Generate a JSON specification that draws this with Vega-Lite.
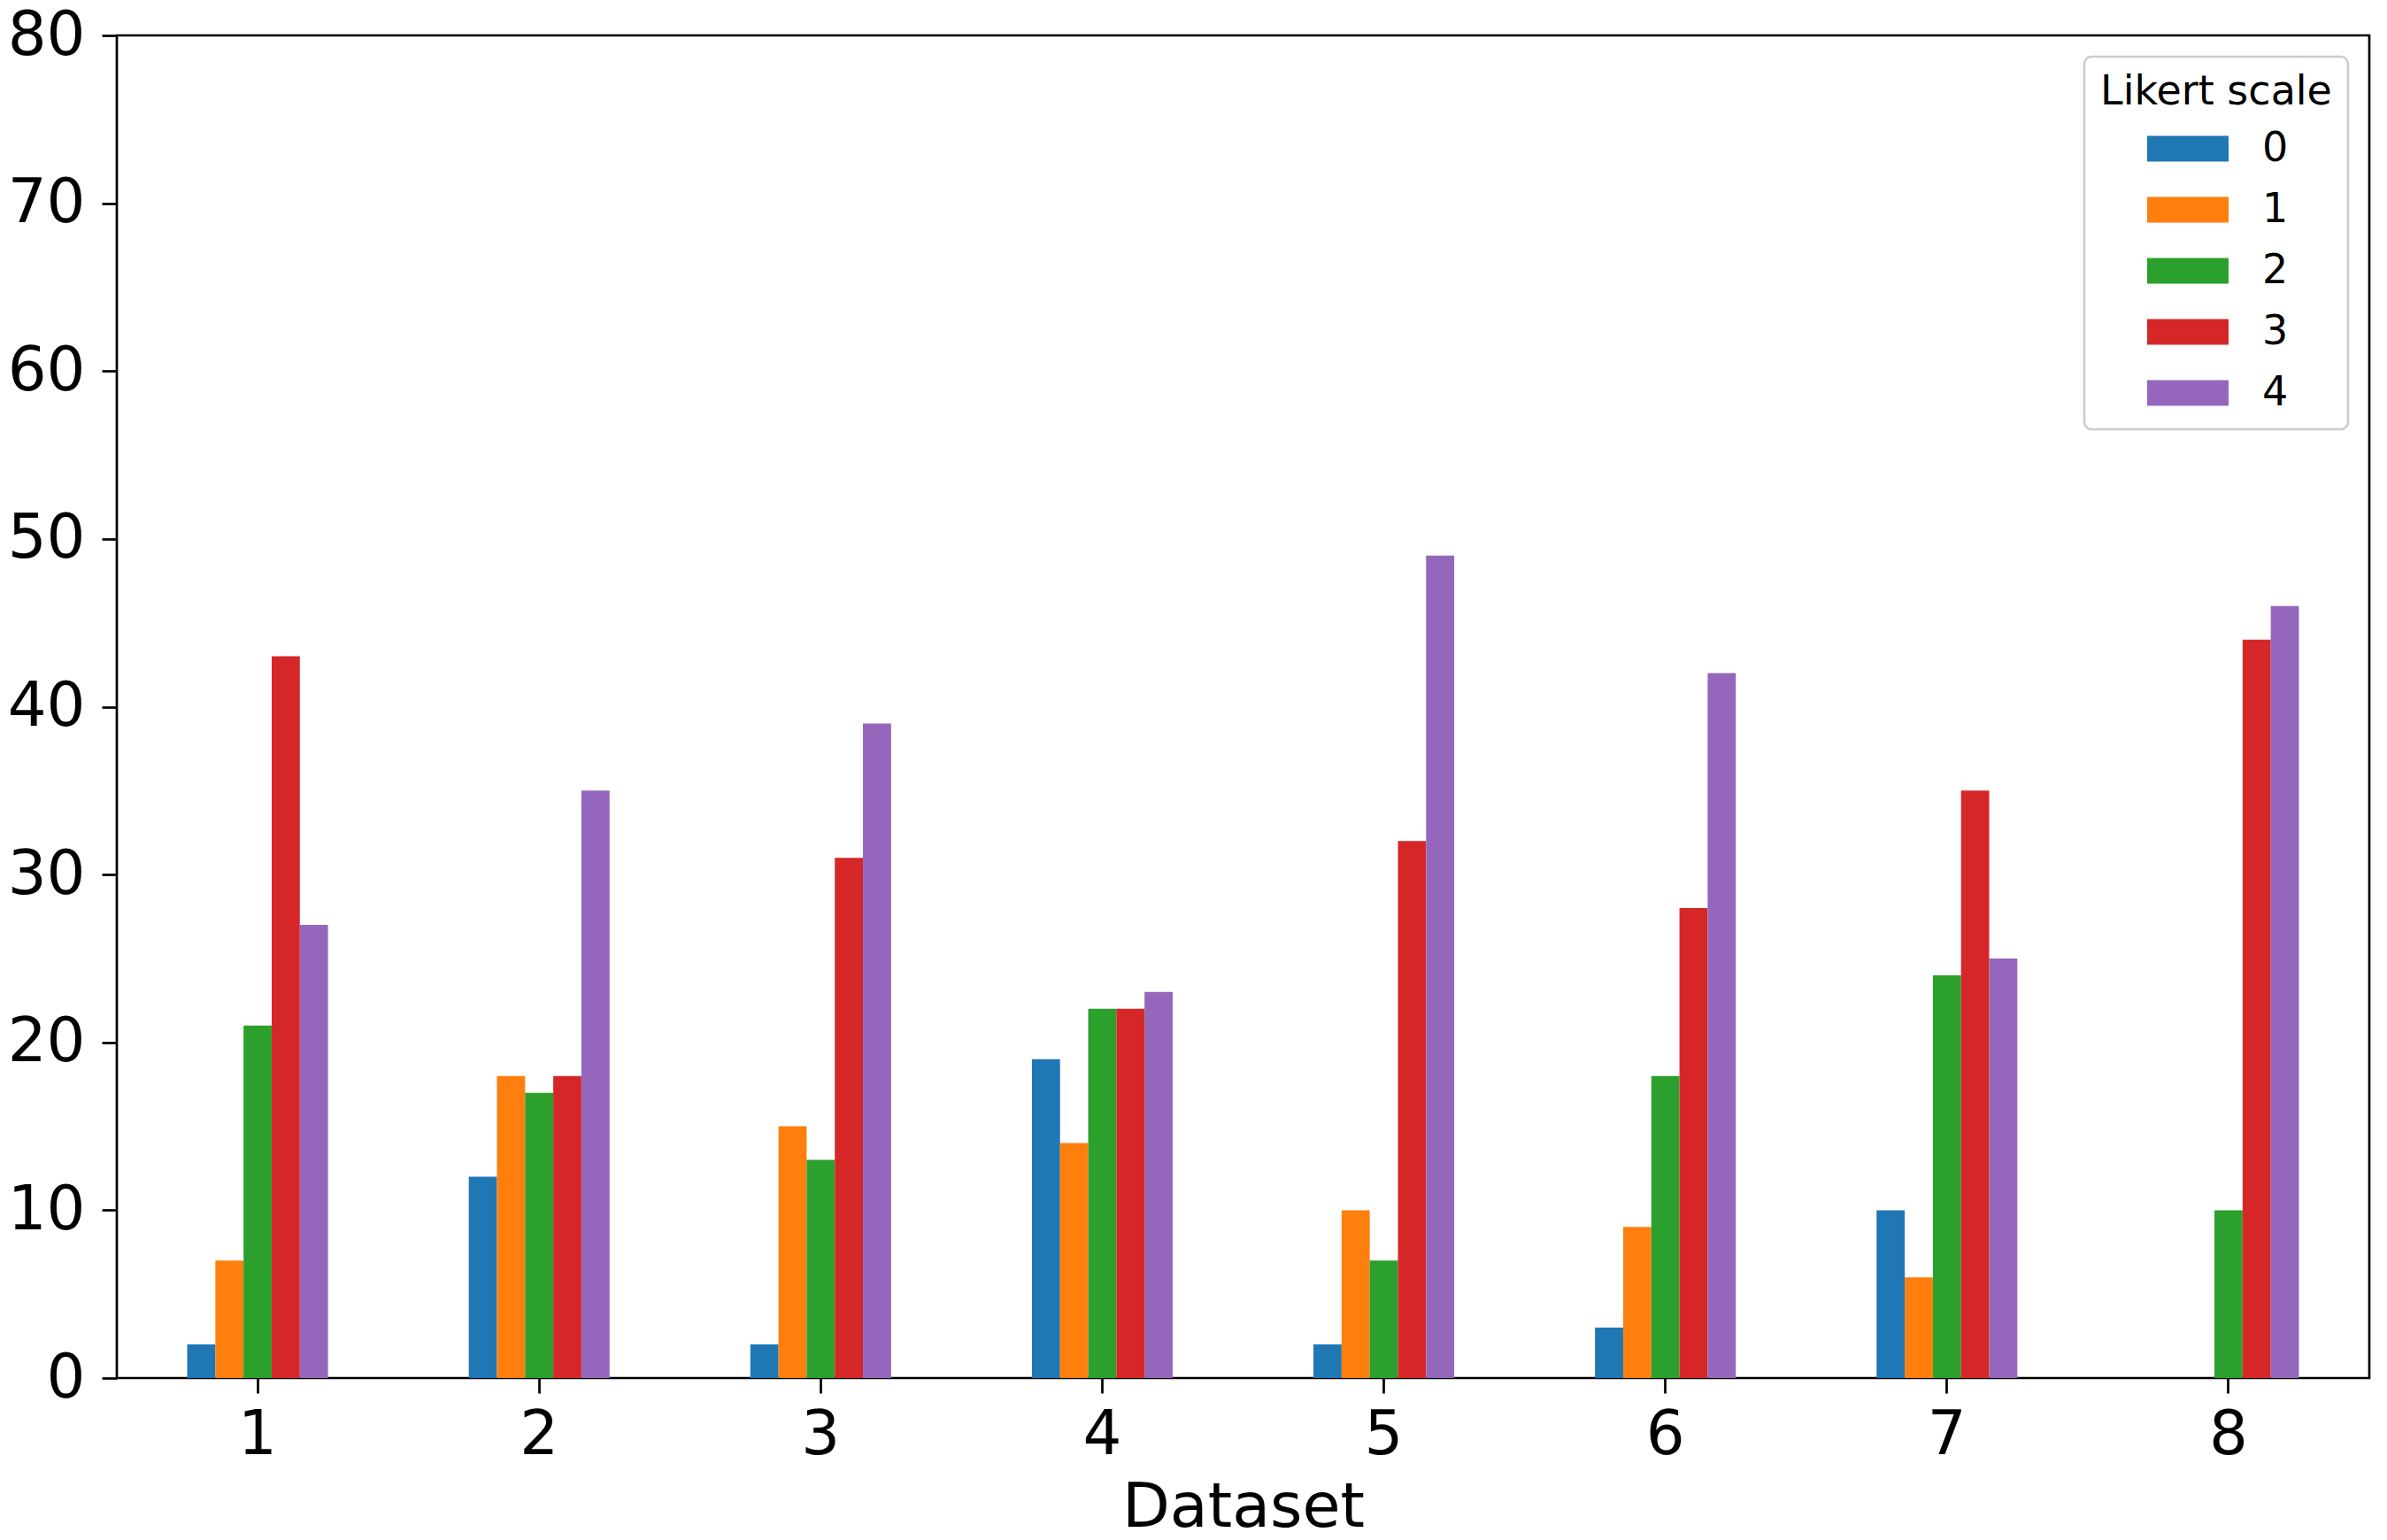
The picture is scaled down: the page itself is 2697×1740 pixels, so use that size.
{
  "$schema": "https://vega.github.io/schema/vega-lite/v6.json",
  "width": 2545,
  "height": 1517,
  "autosize": "none",
  "padding": {"left": 132, "top": 40, "right": 20, "bottom": 183},
  "background": "white",
  "config": {
    "font": "DejaVu Sans",
    "view": {"stroke": "black", "strokeWidth": 2.7},
    "axis": {
      "domain": false,
      "grid": false,
      "tickColor": "black",
      "tickWidth": 2.7,
      "tickSize": 17,
      "labelFont": "DejaVu Sans",
      "labelFontSize": 69,
      "labelColor": "black",
      "titleFont": "DejaVu Sans",
      "titleFontSize": 70,
      "titleFontWeight": "normal",
      "titleColor": "black"
    },
    "legend": {
      "orient": "top-right",
      "offset": 24,
      "padding": 18,
      "strokeColor": "#cccccc",
      "strokeWidth": 2.5,
      "cornerRadius": 8,
      "fillColor": "white",
      "titleFont": "DejaVu Sans",
      "titleFontSize": 46,
      "titleFontWeight": "normal",
      "titleColor": "black",
      "titleAnchor": "middle",
      "titleLimit": 600,
      "titlePadding": 25,
      "labelFont": "DejaVu Sans",
      "labelFontSize": 46,
      "labelColor": "black",
      "symbolType": "M-1,-0.315L1,-0.315L1,0.315L-1,0.315Z",
      "symbolSize": 8464,
      "symbolStrokeWidth": 0,
      "symbolOpacity": 1,
      "symbolOffset": 4,
      "labelOffset": 38,
      "clipHeight": 30,
      "rowPadding": 23
    }
  },
  "data": {
    "values": [
      {"dataset": "1", "likert": "0", "count": 2},
      {"dataset": "1", "likert": "1", "count": 7},
      {"dataset": "1", "likert": "2", "count": 21},
      {"dataset": "1", "likert": "3", "count": 43},
      {"dataset": "1", "likert": "4", "count": 27},
      {"dataset": "2", "likert": "0", "count": 12},
      {"dataset": "2", "likert": "1", "count": 18},
      {"dataset": "2", "likert": "2", "count": 17},
      {"dataset": "2", "likert": "3", "count": 18},
      {"dataset": "2", "likert": "4", "count": 35},
      {"dataset": "3", "likert": "0", "count": 2},
      {"dataset": "3", "likert": "1", "count": 15},
      {"dataset": "3", "likert": "2", "count": 13},
      {"dataset": "3", "likert": "3", "count": 31},
      {"dataset": "3", "likert": "4", "count": 39},
      {"dataset": "4", "likert": "0", "count": 19},
      {"dataset": "4", "likert": "1", "count": 14},
      {"dataset": "4", "likert": "2", "count": 22},
      {"dataset": "4", "likert": "3", "count": 22},
      {"dataset": "4", "likert": "4", "count": 23},
      {"dataset": "5", "likert": "0", "count": 2},
      {"dataset": "5", "likert": "1", "count": 10},
      {"dataset": "5", "likert": "2", "count": 7},
      {"dataset": "5", "likert": "3", "count": 32},
      {"dataset": "5", "likert": "4", "count": 49},
      {"dataset": "6", "likert": "0", "count": 3},
      {"dataset": "6", "likert": "1", "count": 9},
      {"dataset": "6", "likert": "2", "count": 18},
      {"dataset": "6", "likert": "3", "count": 28},
      {"dataset": "6", "likert": "4", "count": 42},
      {"dataset": "7", "likert": "0", "count": 10},
      {"dataset": "7", "likert": "1", "count": 6},
      {"dataset": "7", "likert": "2", "count": 24},
      {"dataset": "7", "likert": "3", "count": 35},
      {"dataset": "7", "likert": "4", "count": 25},
      {"dataset": "8", "likert": "0", "count": 0},
      {"dataset": "8", "likert": "1", "count": 0},
      {"dataset": "8", "likert": "2", "count": 10},
      {"dataset": "8", "likert": "3", "count": 44},
      {"dataset": "8", "likert": "4", "count": 46}
    ]
  },
  "mark": {"type": "bar", "strokeWidth": 0},
  "encoding": {
    "x": {
      "field": "dataset",
      "type": "nominal",
      "sort": ["1", "2", "3", "4", "5", "6", "7", "8"],
      "scale": {"paddingInner": 0.5, "paddingOuter": 0.25},
      "axis": {"title": "Dataset", "labelAngle": 0, "labelPadding": 13, "titlePadding": 13}
    },
    "xOffset": {
      "field": "likert",
      "type": "nominal",
      "sort": ["0", "1", "2", "3", "4"],
      "scale": {"paddingInner": 0, "paddingOuter": 0}
    },
    "y": {
      "field": "count",
      "type": "quantitative",
      "scale": {"domain": [0, 80], "nice": false},
      "axis": {"title": null, "values": [0, 10, 20, 30, 40, 50, 60, 70, 80], "labelPadding": 19}
    },
    "color": {
      "field": "likert",
      "type": "nominal",
      "sort": ["0", "1", "2", "3", "4"],
      "scale": {"range": ["#1f77b4", "#ff7f0e", "#2ca02c", "#d62728", "#9467bd"]},
      "legend": {"title": "Likert scale"}
    }
  }
}
